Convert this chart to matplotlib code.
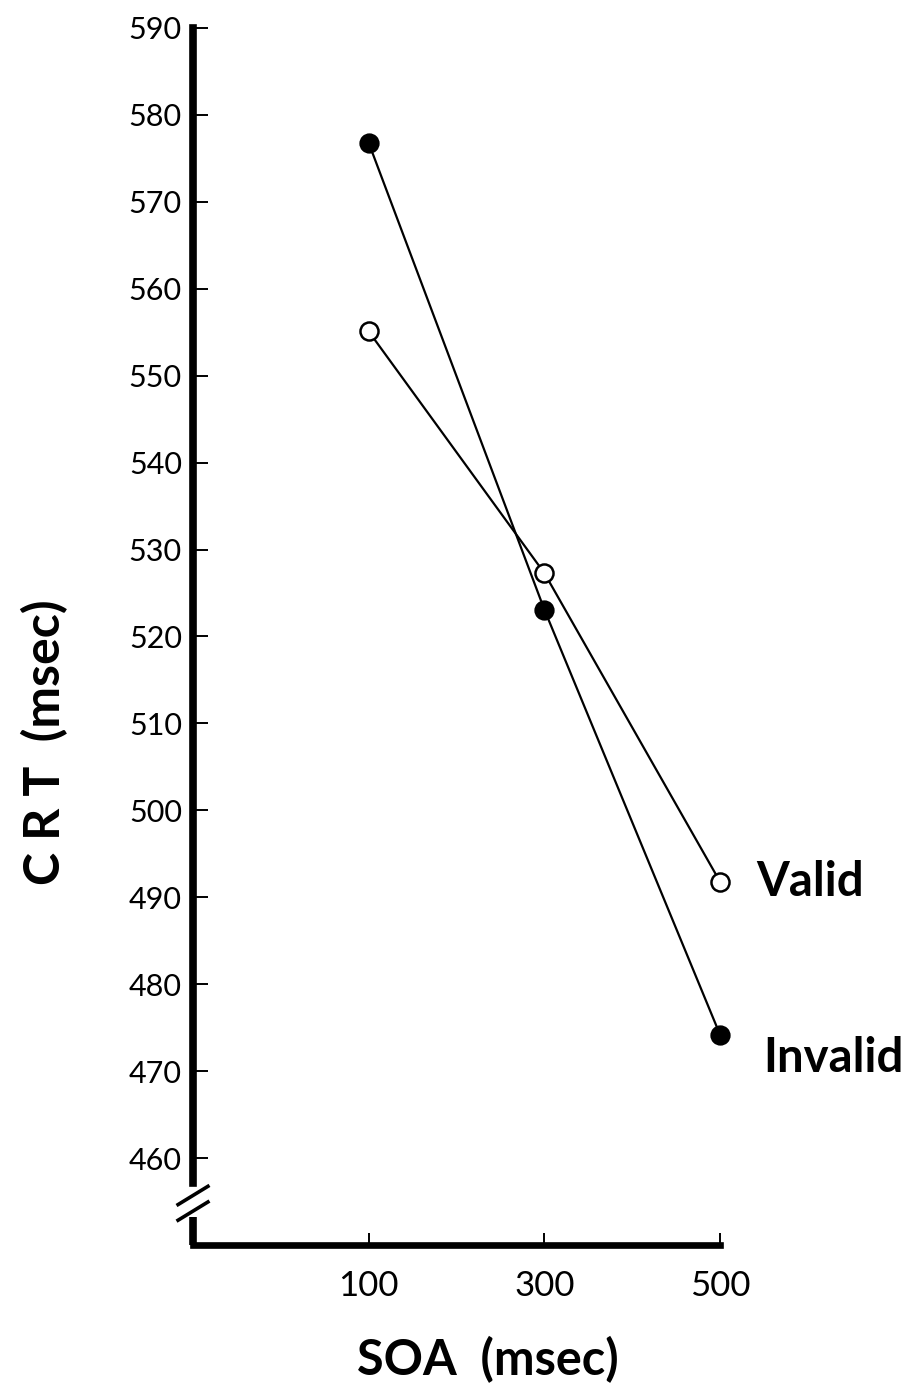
import matplotlib
matplotlib.use("Agg")
import matplotlib.pyplot as plt

# Choice reaction time by cue-target SOA
soa = [100, 300, 500]
valid_rt = [555.1, 527.3, 491.8]
invalid_rt = [576.8, 523.1, 474.2]
y_ticks = list(range(460, 600, 10))
x_ticks = [100, 300, 500]

plt.rcParams.update({"font.family": ["Lato", "DejaVu Sans"]})

W, H = 920, 1393
fig = plt.figure(figsize=(W / 100, H / 100), dpi=100)
ax = fig.add_axes([193 / W, 1 - 1245 / H, (720 - 193) / W, (1245 - 28) / H])
ax.set_xlim(-100, 500)
ax.set_ylim(450, 590)

ax.plot(soa, invalid_rt, color="black", lw=1.6, marker="o", ms=13,
        mfc="black", mec="black", mew=1.6, zorder=3, clip_on=False)
ax.plot(soa, valid_rt, color="black", lw=1.6, marker="o", ms=13,
        mfc="white", mec="black", mew=1.8, zorder=4, clip_on=False)

ax.annotate("Valid", (soa[-1], valid_rt[-1]), xytext=(26, 0),
            textcoords="offset points", ha="left", va="center",
            fontsize=34, fontweight="bold")
ax.annotate("Invalid", (soa[-1], invalid_rt[-1]), xytext=(31, -17),
            textcoords="offset points", ha="left", va="center",
            fontsize=34, fontweight="bold")

for s in ["top", "right"]:
    ax.spines[s].set_visible(False)
ax.spines["left"].set_linewidth(5.5)
ax.spines["bottom"].set_linewidth(4.8)
ax.spines["left"].set_capstyle("projecting")
ax.spines["bottom"].set_capstyle("projecting")

# broken y axis near the bottom
brk_top, brk_bot = 457.1, 453.2
ax.spines["left"].set_bounds(brk_top, 590)
ax.plot([-100, -100], [450, brk_bot], color="black", lw=5.5,
        solid_capstyle="butt", clip_on=False, zorder=5)
for yc in (455.7, 453.9):
    ax.plot([-117, -83], [yc - 1.05, yc + 1.05], color="black", lw=2.6,
            clip_on=False, zorder=5)

ax.set_yticks(y_ticks)
ax.set_xticks(x_ticks)
ax.tick_params(axis="y", direction="in", length=11, width=1.4, pad=8,
               labelsize=22)
ax.tick_params(axis="x", direction="in", length=9, width=1.4, pad=18,
               labelsize=25)

fig.text(488 / W, 1 - 1360 / H, "SOA  (msec)", ha="center", va="center",
         fontsize=35, fontweight="bold")
fig.text(45 / W, 1 - 742 / H, "C R T  (msec)", ha="center", va="center",
         rotation=90, fontsize=36, fontweight="bold")

fig.savefig("out.png", dpi=100)
